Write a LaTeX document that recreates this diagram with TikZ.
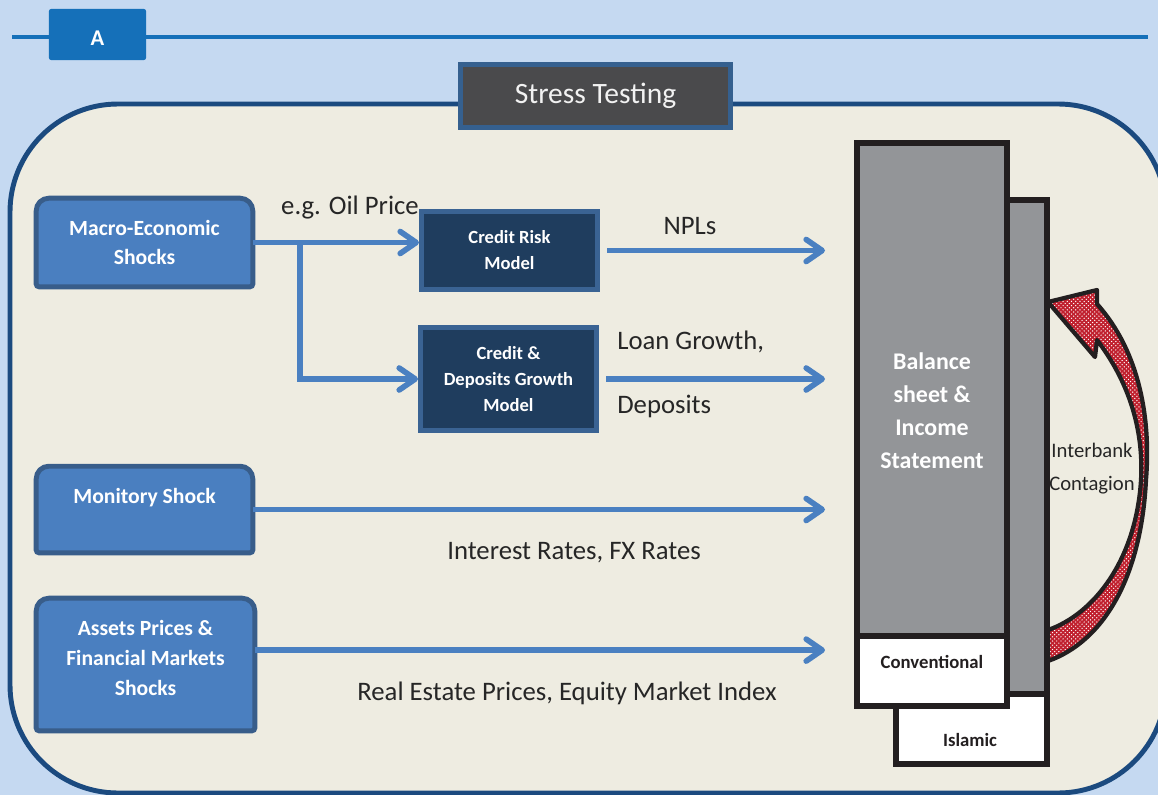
\documentclass[tikz,border=0pt]{standalone}
\usepackage{fontspec}
\setmainfont{Carlito}
\usetikzlibrary{arrows.meta,backgrounds,patterns}

\definecolor{pageblue}{RGB}{197,217,241}
\definecolor{panel}{RGB}{238,236,225}
\definecolor{panelrim}{RGB}{27,74,127}
\definecolor{tabblue}{RGB}{21,112,185}
\definecolor{titlegray}{RGB}{74,74,76}
\definecolor{titlerim}{RGB}{53,96,143}
\definecolor{shockfill}{RGB}{74,127,192}
\definecolor{shockrim}{RGB}{56,93,138}
\definecolor{modelfill}{RGB}{31,61,94}
\definecolor{modelrim}{RGB}{58,99,147}
\definecolor{flowblue}{RGB}{74,128,193}
\definecolor{sheetgray}{RGB}{147,149,152}
\definecolor{ink}{RGB}{35,31,32}
\definecolor{contred}{RGB}{192,32,46}
\definecolor{labelink}{RGB}{38,38,38}

\tikzset{
  shockbox/.style={text=white, font=\fontsize{15.4}{21}\selectfont\bfseries, align=center,
    minimum width=5.4cm, inner sep=0pt},
  shockedge/.style={draw=shockrim, fill=shockfill, line width=3.5pt},
  modelbox/.style={draw=modelrim, fill=modelfill, line width=3.5pt, text=white,
    font=\fontsize{13.2}{18.5}\selectfont\bfseries, align=center, minimum width=4.4cm, inner sep=0pt},
  flow/.style={draw=flowblue, line width=4pt, -{Straight Barb[length=4mm,width=5.5mm,round]}},
  lbl/.style={text=labelink, font=\fontsize{19}{22}\selectfont, inner sep=0pt, anchor=base},
  sheet/.style={draw=ink, line width=3.8pt},
  sheettext/.style={font=\fontsize{13.3}{16}\selectfont\bfseries, text=ink, inner sep=0pt},
}

\begin{document}
\begin{tikzpicture}[x=0.025cm, y=-0.025cm]
\useasboundingbox (0,0) rectangle (1158,795);

\begin{scope}[on background layer]
\fill[pageblue] (0,0) rectangle (1158,795);
\begin{scope}
\clip (0,0) rectangle (1158,795);
\draw[panelrim, fill=panel, line width=3.5pt, rounded corners=2.7cm] (10,104) rectangle (1166,793);
\end{scope}
\draw[tabblue, line width=2.8pt] (12,37) -- (1148,37);
\end{scope}

\node[fill=tabblue, rounded corners=1.5pt, minimum width=2.425cm, minimum height=1.275cm, text=white,
  text height=0.57cm, font=\fontsize{16}{16}\selectfont\bfseries] (tab) at (97.5,34.5) {A};
\node[draw=titlerim, fill=titlegray, line width=3.5pt, minimum width=6.75cm, minimum height=1.575cm,
  text=white!95!black, font=\fontsize{21}{21}\selectfont, inner sep=0pt] (title) at (595.5,96) {Stress Testing};

% shocks
\node[shockbox, minimum height=2.2cm] (macro) at (144.5,242.5) {Macro-Economic\\Shocks};
\node[shockbox, minimum height=2.15cm, text depth=0.7cm] (monitory) at (144.5,509.5) {Monitory Shock};
\node[shockbox, minimum width=5.45cm, minimum height=3.3cm, text depth=0.33cm] (assets) at (145.5,664.5)
  {Assets Prices \&\\Financial Markets\\Shocks};
\begin{scope}[on background layer]
\foreach \b in {macro,monitory,assets}
  \draw[shockedge] (\b.south west) [rounded corners=9pt] -- (\b.north west) -- (\b.north east)
    [rounded corners=2pt] -- (\b.south east) -- cycle;
\end{scope}

% models
\node[modelbox, minimum height=1.95cm] (crisk) at (509.5,250.5) {Credit Risk\\Model};
\node[modelbox, minimum height=2.575cm] (cdep) at (508.5,379) {Credit \&\\Deposits Growth\\Model};

% balance sheet stack
\draw[sheet, fill=sheetgray] (896,200) rectangle (1047,694);
\draw[sheet, fill=white] (896,694) rectangle (1047,764);
\draw[sheet, fill=sheetgray] (857,143) rectangle (1007,636);
\draw[sheet, fill=white] (857,636) rectangle (1007,706);
\node[font=\fontsize{17}{23.5}\selectfont\bfseries, text=white, align=center] (balance) at (932,411)
  {Balance\\sheet \&\\Income\\Statement};
\node[sheettext] (conv) at (932,662) {Conventional};
\node[sheettext] (islamic) at (970,740) {Islamic};

% interbank contagion
\draw[ink, line width=3pt, line join=round, preaction={fill=contred}, pattern=crosshatch dots, pattern color=white]
  (1048,302) -- (1097,290) -- (1097,304) .. controls (1140,352) and (1151,420) .. (1146,480)
  .. controls (1141,580) and (1102,642) .. (1048,661) -- (1048,630)
  .. controls (1094,614) and (1136,560) .. (1141,480) .. controls (1144,425) and (1126,378) .. (1097,340)
  -- (1095,357) -- cycle;
\node[text=labelink, font=\fontsize{14.7}{23.5}\selectfont, align=center] (interbank) at (1092,469) {Interbank\\Contagion};

% flows
\coordinate (split) at (300,242.5);
\coordinate (bsin) at (825,0);
\draw[flow] (macro.east) -- (macro.east -| crisk.west);
\draw[flow] (split) |- (cdep.west);
\draw[flow, shorten <=0.18cm] (crisk.east) -- (crisk.east -| bsin);
\draw[flow, shorten <=0.18cm] (cdep.east) -- (cdep.east -| bsin);
\draw[flow] (monitory.east) -- (monitory.east -| bsin);
\draw[flow] ([yshift=0.36cm]assets.east) -- ([yshift=0.36cm]assets.east -| bsin);

\node[lbl] (oil) at (350,214) {e.g. Oil Price};
\node[lbl] (npl) at (690,234) {NPLs};
\node[lbl, anchor=base west] (loan) at (617,349) {Loan Growth,};
\node[lbl, anchor=base west] (dep) at (617,413) {Deposits};
\node[lbl] (rates) at (574,559) {Interest Rates, FX Rates};
\node[lbl] (prices) at (567,700) {Real Estate Prices, Equity Market Index};
\end{tikzpicture}
\end{document}
